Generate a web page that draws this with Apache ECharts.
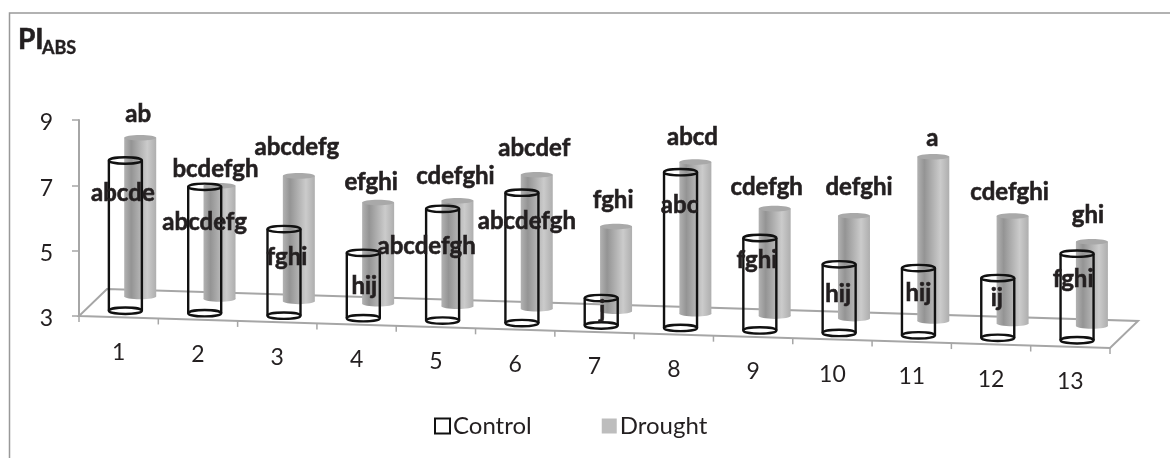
<!DOCTYPE html>
<html>
<head>
<meta charset="utf-8">
<title>PI ABS</title>
<style>
  html, body { margin: 0; padding: 0; background: #fff; }
  #chart { width: 1170px; height: 458px; }
</style>
<script src="https://cdn.jsdelivr.net/npm/echarts@6/dist/echarts.min.js"></script>
</head>
<body>
<div id="chart"></div>
<script>
const categories = ["1", "2", "3", "4", "5", "6", "7", "8", "9", "10", "11", "12", "13"];
const controlValues = [7.6, 6.87, 5.65, 5.0, 6.42, 6.99, 3.84, 7.77, 5.83, 5.1, 5.06, 4.83, 5.65];
const droughtValues = [7.86, 6.46, 6.84, 6.1, 6.23, 7.1, 5.59, 7.64, 6.29, 6.15, 8.03, 6.29, 5.58];
const controlLetters = ["abcde", "abcdefg", "fghi", "hij", "abcdefgh", "abcdefgh", "j", "abc", "fghi", "hij", "hij", "ij", "fghi"];
const droughtLetters = ["ab", "bcdefgh", "abcdefg", "efghi", "cdefghi", "abcdef", "fghi", "abcd", "cdefgh", "defghi", "a", "cdefghi", "ghi"];

// letters were placed by hand in the original, so each keeps its own nudge from the cylinder top
const controlNudgeX = [-2.5, 0, 3, 1, -16, 5, 1, -1, -3, -1, 0, -1, -4];
const controlNudgeY = [33, 35, 28, 33, 37, 29, 12, 33, 22, 30, 25, 20, 26];
const droughtNudgeX = [-2, -4, -2, -7, -2, -2.5, -3, -3, -8, 5, -1, -3, -4];
const droughtNudgeY = [-23, -17, -29, -20, -25, -27, -26, -25, -21, -28, -18, -24, -26];

const FONT = "Lato";
const INK = "#231f20";
const EDGE = "#a6a6a6";
const DEPTH_X = 28;
const DEPTH_Y = 27;
const SLANT = 2.46; // px the floor drops per category
const CONTROL_DEPTH = 0.24;
const DROUGHT_DEPTH = 0.77;

const chart = echarts.init(document.getElementById("chart"));

// fake 3D: shift a data point into the floor's depth and along its tilt
function project(api, i, value, depth, along) {
  const pt = api.coord([i, value]);
  const band = api.size([1, 0])[0];
  const off = along || 0;
  return [
    pt[0] + off * band + DEPTH_X * depth,
    pt[1] - DEPTH_Y * depth + SLANT * (i + off + 0.5),
  ];
}

function renderFloor(params, api) {
  const last = categories.length - 1;
  const a = project(api, 0, 3, 0, -0.5);
  const b = project(api, last, 3, 0, 0.5);
  const c = project(api, last, 3, 1, 0.5);
  const d = project(api, 0, 3, 1, -0.5);
  const children = [
    {
      type: "polygon",
      shape: { points: [a, b, c, d] },
      style: { fill: "transparent", stroke: EDGE, lineWidth: 2 },
    },
  ];
  categories.forEach((name, i) => {
    const t = project(api, i, 3, 0, -0.5);
    children.push({
      type: "line",
      shape: { x1: t[0], y1: t[1], x2: t[0], y2: t[1] + 6 },
      style: { stroke: EDGE, lineWidth: 1.5 },
    });
    const c0 = project(api, i, 3, 0, 0);
    children.push({
      type: "text",
      x: c0[0],
      y: c0[1] + 35,
      style: {
        text: name,
        align: "center",
        verticalAlign: "middle",
        fill: INK,
        font: `23px ${FONT}`,
      },
    });
  });
  const t = project(api, last, 3, 0, 0.5);
  children.push({
    type: "line",
    shape: { x1: t[0], y1: t[1], x2: t[0], y2: t[1] + 6 },
    style: { stroke: EDGE, lineWidth: 1.5 },
  });
  return { type: "group", children };
}

function renderDrought(params, api) {
  const i = api.value(0);
  const top = project(api, i, api.value(1), DROUGHT_DEPTH);
  const base = project(api, i, 3, DROUGHT_DEPTH);
  const rx = 16;
  const ry = 2.8;
  const body = new echarts.graphic.LinearGradient(0, 0, 1, 0, [
    { offset: 0, color: "#b2b2b2" },
    { offset: 0.22, color: "#949494" },
    { offset: 0.72, color: "#cbcbcb" },
    { offset: 1, color: "#aeaeae" },
  ]);
  return {
    type: "group",
    children: [
      { type: "ellipse", shape: { cx: base[0], cy: base[1], rx, ry }, style: { fill: body } },
      { type: "rect", shape: { x: top[0] - rx, y: top[1], width: rx * 2, height: base[1] - top[1] }, style: { fill: body } },
      { type: "ellipse", shape: { cx: top[0], cy: top[1], rx, ry }, style: { fill: "#a9a9a9" } },
    ],
  };
}

function renderControl(params, api) {
  const i = api.value(0);
  const top = project(api, i, api.value(1), CONTROL_DEPTH);
  const base = project(api, i, 3, CONTROL_DEPTH);
  const rx = 16.5;
  const ry = 3.2;
  const pen = { fill: "transparent", stroke: "#111", lineWidth: 2.4 };
  return {
    type: "group",
    children: [
      { type: "ellipse", shape: { cx: base[0], cy: base[1], rx, ry }, style: pen },
      { type: "ellipse", shape: { cx: top[0], cy: top[1], rx, ry }, style: pen },
      { type: "line", shape: { x1: top[0] - rx, y1: top[1], x2: base[0] - rx, y2: base[1] }, style: pen },
      { type: "line", shape: { x1: top[0] + rx, y1: top[1], x2: base[0] + rx, y2: base[1] }, style: pen },
    ],
  };
}

function letterRenderer(letters, nudgeX, nudgeY, depth) {
  return (params, api) => {
    const i = api.value(0);
    const top = project(api, i, api.value(1), depth);
    return {
      type: "text",
      x: top[0] + nudgeX[i],
      y: top[1] + nudgeY[i],
      style: {
        text: letters[i],
        align: "center",
        verticalAlign: "middle",
        fill: INK,
        stroke: INK,
        lineWidth: 0.6, // the original's Calibri bold is heavier than Lato's
        font: `bold 24px ${FONT}`,
      },
    };
  };
}

const controlData = controlValues.map((v, i) => [i, v]);
const droughtData = droughtValues.map((v, i) => [i, v]);

chart.setOption({
  backgroundColor: "#fff",
  animation: false,
  textStyle: { fontFamily: FONT },
  title: [
    { text: "PI", left: 13, top: 21, textStyle: { fontFamily: FONT, fontWeight: "bold", fontSize: 28, color: INK, textBorderColor: INK, textBorderWidth: 0.6 } },
    { text: "ABS", left: 37, top: 34, textStyle: { fontFamily: FONT, fontWeight: "bold", fontSize: 18, color: INK, textBorderColor: INK, textBorderWidth: 0.4 } },
  ],
  legend: {
    left: 429,
    top: 409,
    itemWidth: 15,
    itemHeight: 15,
    itemGap: 70,
    textStyle: { fontFamily: FONT, fontSize: 24, color: INK, padding: [0, 0, 0, -2] },
    data: [
      { name: "Control", icon: "rect", itemStyle: { color: "#fff", borderColor: "#111", borderWidth: 2 } },
      { name: "Drought", icon: "rect", itemStyle: { color: "#bdbdbd", borderWidth: 0 } },
    ],
  },
  grid: { left: 79, top: 120, width: 1031, height: 196 },
  xAxis: {
    type: "category",
    data: categories,
    axisLine: { show: false },
    axisTick: { show: false },
    axisLabel: { show: false },
  },
  yAxis: {
    type: "value",
    min: 3,
    max: 9,
    interval: 2,
    splitLine: { show: false },
    axisLine: { show: true, lineStyle: { color: EDGE, width: 2 } },
    axisTick: { show: true, length: 7, lineStyle: { color: EDGE, width: 1.5 } },
    axisLabel: {
      margin: 26,
      formatter: "{v|{value}}",
      rich: { v: { color: INK, fontSize: 23, fontFamily: FONT, padding: [6, 0, 0, 0] } },
    },
  },
  series: [
    { name: "floor", type: "custom", silent: true, z: 1, renderItem: renderFloor, data: [[0, 3]], encode: { x: 0, y: 1 } },
    { name: "Drought", type: "custom", z: 2, itemStyle: { color: "#bdbdbd" }, renderItem: renderDrought, data: droughtData, encode: { x: 0, y: 1 } },
    { name: "Control", type: "custom", z: 3, itemStyle: { color: "#fff" }, renderItem: renderControl, data: controlData, encode: { x: 0, y: 1 } },
    { name: "droughtLetters", type: "custom", silent: true, z: 4, renderItem: letterRenderer(droughtLetters, droughtNudgeX, droughtNudgeY, DROUGHT_DEPTH), data: droughtData, encode: { x: 0, y: 1 } },
    { name: "controlLetters", type: "custom", silent: true, z: 4, renderItem: letterRenderer(controlLetters, controlNudgeX, controlNudgeY, CONTROL_DEPTH), data: controlData, encode: { x: 0, y: 1 } },
  ],
  graphic: [
    { type: "polyline", silent: true, shape: { points: [[9.5, 458], [9.5, 13], [1170, 13]] }, style: { fill: "none", stroke: "#999", lineWidth: 1.5 } },
  ],
});

window.addEventListener("resize", () => chart.resize());
</script>
</body>
</html>
